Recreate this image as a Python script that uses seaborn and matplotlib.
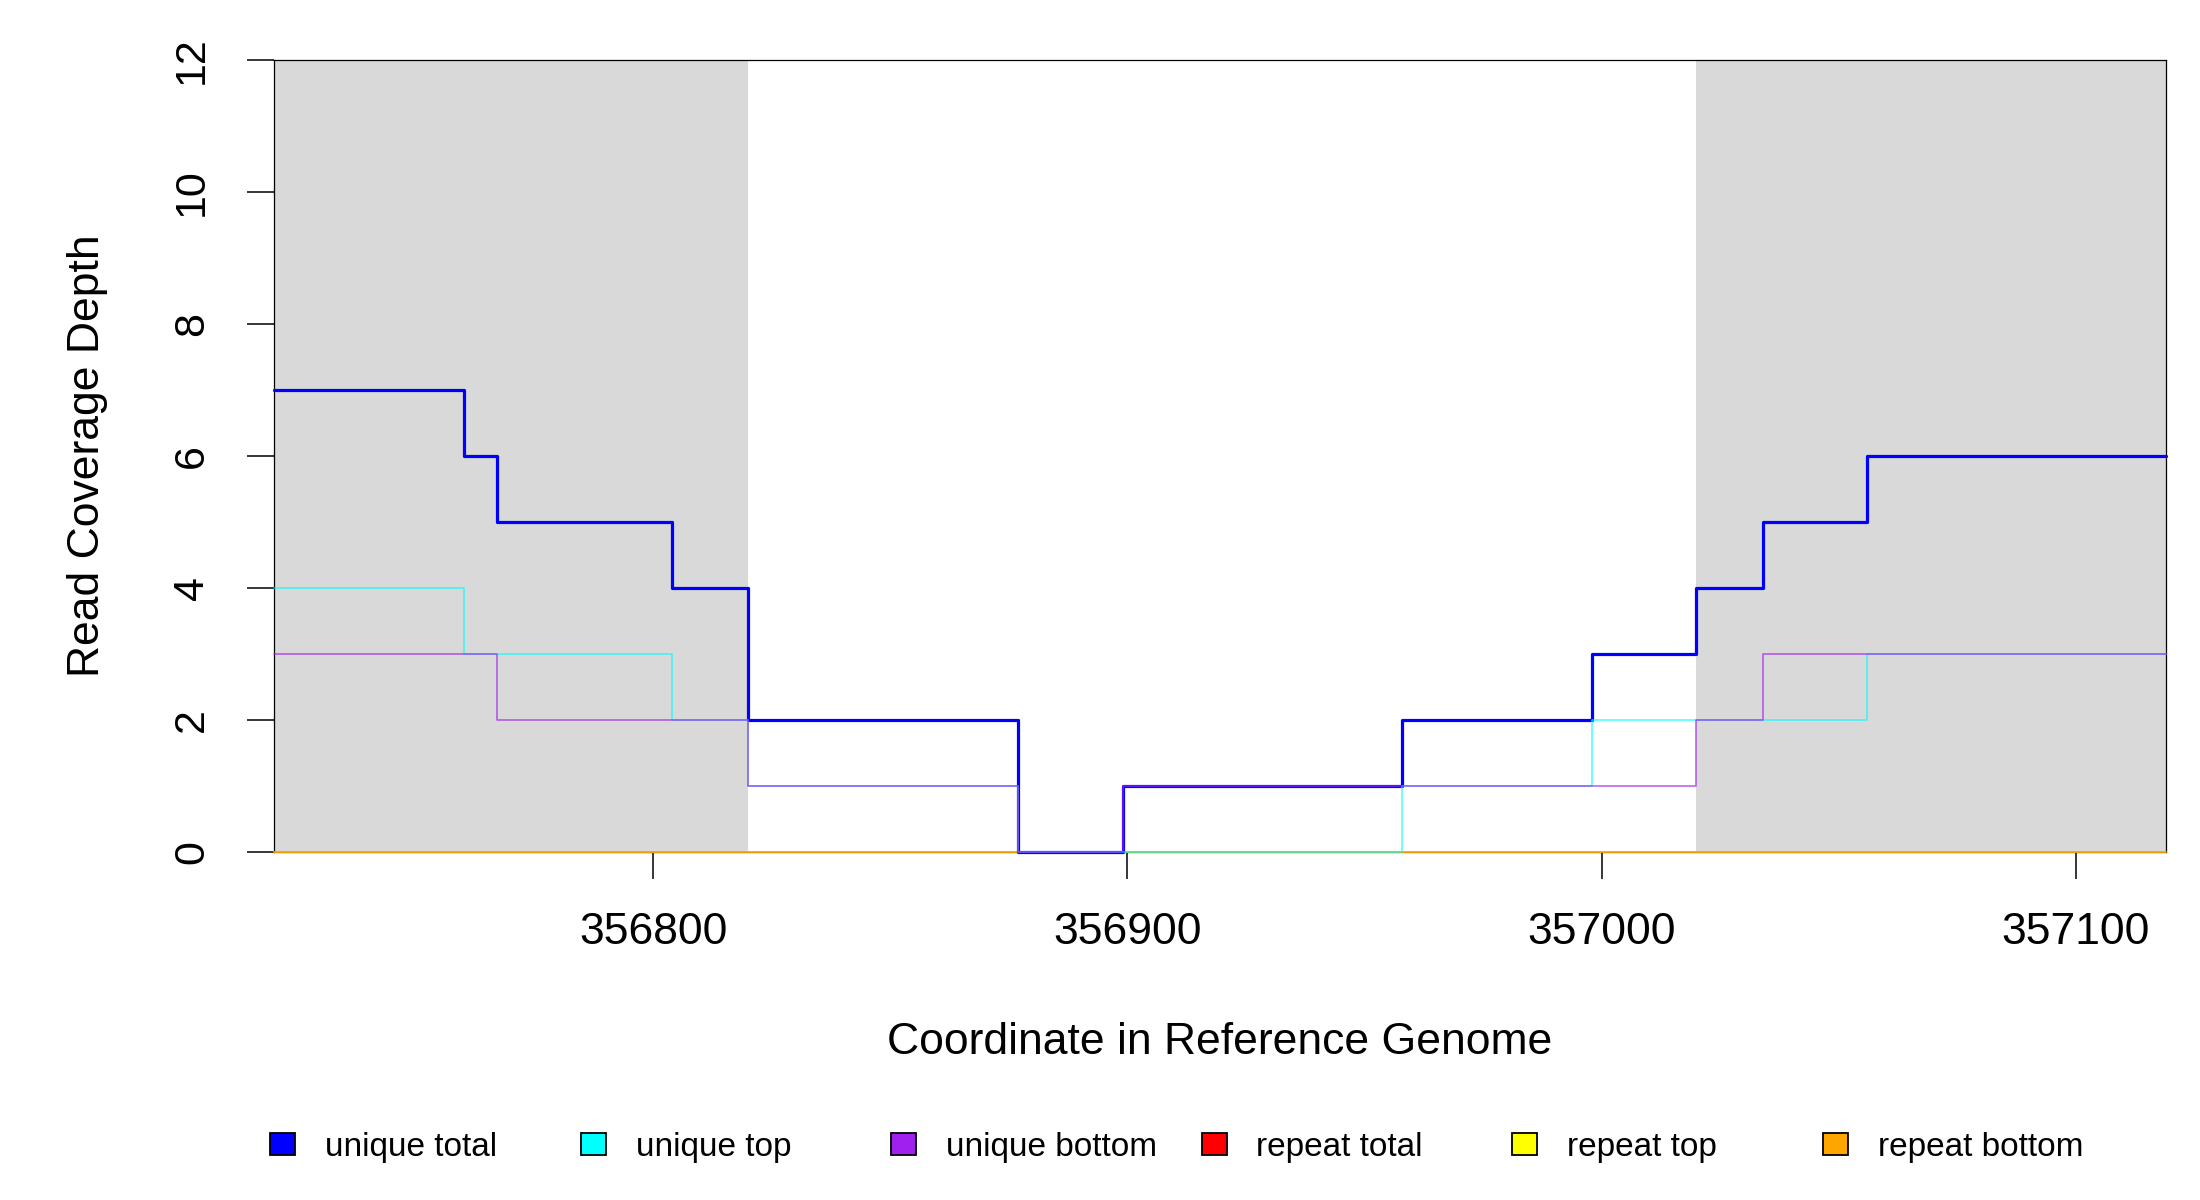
import numpy as np
import pandas as pd
import seaborn as sns
import matplotlib
matplotlib.use("Agg")
import matplotlib.pyplot as plt
from matplotlib.patches import Patch

# --- coverage data (step breakpoints, value holds until next breakpoint) ---
positions = [356720, 356760, 356767, 356804, 356820, 356877, 356899,
             356958, 356998, 357020, 357034, 357056, 357119]
unique_total = [7, 6, 5, 4, 2, 0, 1, 2, 3, 4, 5, 6, 6]
unique_top = [4, 3, 3, 2, 1, 0, 0, 1, 2, 2, 2, 3, 3]
unique_bottom = [3, 3, 2, 2, 1, 0, 1, 1, 1, 2, 3, 3, 3]
repeat_total = [0] * len(positions)
repeat_top = [0] * len(positions)
repeat_bottom = [0] * len(positions)

# flanking regions shaded in grey
shaded_regions = [(356720, 356820), (357020, 357119)]

series_names = ["unique total", "unique top", "unique bottom",
                "repeat total", "repeat top", "repeat bottom"]
series_values = [unique_total, unique_top, unique_bottom,
                 repeat_total, repeat_top, repeat_bottom]
series_colors = ["#0000FF", "#00FFFF", "#A020F0", "#FF0000", "#FFFF00", "#FFA500"]

x_ticks = [356800, 356900, 357000, 357100]
y_ticks = [0, 2, 4, 6, 8, 10, 12]

df = pd.concat([
    pd.DataFrame({"position": positions, "depth": vals, "series": name})
    for name, vals in zip(series_names, series_values)
], ignore_index=True)

sns.set_theme(style="white")
plt.rcParams["font.family"] = ["Liberation Sans", "DejaVu Sans"]
plt.rcParams["text.color"] = "black"
plt.rcParams["axes.labelcolor"] = "black"

fig = plt.figure(figsize=(22, 12), dpi=100)
ax = fig.add_axes([0.1245, 0.2903, 0.86, 0.66])

for lo, hi in shaded_regions:
    ax.axvspan(lo, hi, color="#D9D9D9", lw=0, zorder=0)

# repeat tracks go underneath, unique tracks on top; all above the frame
draw_order = ["repeat total", "repeat top", "repeat bottom",
              "unique total", "unique top", "unique bottom"]
for z, name in enumerate(draw_order):
    i = series_names.index(name)
    sub = df[df["series"] == name]
    thick = name == "unique total"
    sns.lineplot(data=sub, x="position", y="depth", ax=ax,
                 color=series_colors[i], drawstyle="steps-post",
                 linewidth=2.3 if thick else 1.1,
                 alpha=1.0 if thick else 0.75,
                 estimator=None, sort=False, zorder=3 + z * 0.1,
                 clip_on=False)

ax.set_xlim(positions[0], positions[-1])
ax.set_ylim(0, 12)
ax.set_xticks(x_ticks)
ax.set_xticklabels([str(t) for t in x_ticks])
ax.set_yticks(y_ticks)
ax.set_yticklabels([str(t) for t in y_ticks], rotation=90, va="center")

for s in ax.spines.values():
    s.set_visible(True)
    s.set_color("black")
    s.set_linewidth(0.9)
    s.set_zorder(2.5)

ax.tick_params(axis="x", which="major", bottom=True, direction="out",
               length=19.5, width=1.1, pad=24, labelsize=32,
               colors="black", labelcolor="black")
ax.tick_params(axis="y", which="major", left=True, direction="out",
               length=19.5, width=1.1, pad=25, labelsize=31,
               colors="black", labelcolor="black")

ax.set_xlabel("Coordinate in Reference Genome", fontsize=32, color="black")
ax.set_ylabel("Read Coverage Depth", fontsize=32, color="black")
ax.xaxis.set_label_coords(0.5, -0.241)
ax.xaxis.label.set_verticalalignment("center")
ax.yaxis.set_label_coords(-0.0983, 0.5)
ax.yaxis.label.set_verticalalignment("center")

# horizontal legend with evenly spaced entries, like R's legend(horiz=TRUE)
for k, (name, col) in enumerate(zip(series_names, series_colors)):
    handle = Patch(facecolor=col, edgecolor="black", linewidth=1.3)
    fig.legend(handles=[handle], labels=[name], loc="center left",
               bbox_to_anchor=((270 + k * 310.5) / 2200, 0.044),
               frameon=False, fontsize=24, handlelength=0.75,
               handleheight=0.65, handletextpad=0.9,
               borderpad=0, borderaxespad=0, labelcolor="black")

fig.savefig("out.png", dpi=100)
